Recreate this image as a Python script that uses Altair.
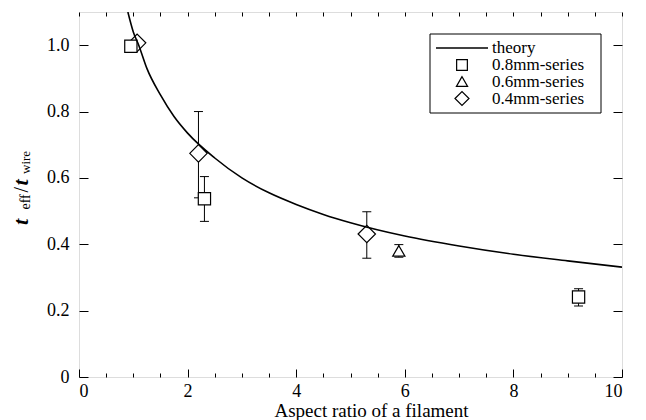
import altair as alt
import pandas as pd

# ---- data ----
theory_x = [0.90, 1.0, 1.1, 1.25, 1.5, 1.75, 2.0, 2.5, 3.0, 3.5, 4.0, 4.5, 5.0, 6.0, 7.0, 8.0, 9.0, 10.0]
theory_y = [1.10, 1.04, 1.00, 0.93, 0.85, 0.785, 0.735, 0.66, 0.60, 0.555, 0.52, 0.49, 0.465, 0.425, 0.395, 0.37, 0.35, 0.331]

series_names = ["theory", "0.8mm-series", "0.6mm-series", "0.4mm-series"]

sq_x = [0.955, 2.31, 9.20]
sq_y = [0.997, 0.537, 0.241]
tri_x = [5.89]
tri_y = [0.38]
dia_x = [1.07, 2.20, 5.30]
dia_y = [1.007, 0.674, 0.431]

err_x = [2.31, 9.20, 5.89, 2.20, 5.30]
err_lo = [0.469, 0.214, 0.361, 0.54, 0.358]
err_hi = [0.604, 0.266, 0.399, 0.80, 0.498]

x_major = [0, 2, 4, 6, 8, 10]
x_minor = [0.5, 1, 1.5, 2.5, 3, 3.5, 4.5, 5, 5.5, 6.5, 7, 7.5, 8.5, 9, 9.5]
x_all = [0, 0.5, 1, 1.5, 2, 2.5, 3, 3.5, 4, 4.5, 5, 5.5, 6, 6.5, 7, 7.5, 8, 8.5, 9, 9.5, 10]
y_major = [0, 0.2, 0.4, 0.6, 0.8, 1.0]

# ---- tables ----
curve_df = pd.DataFrame({"x": theory_x, "y": theory_y})
pts_df = pd.concat([
    pd.DataFrame({"x": dia_x, "y": dia_y, "series": series_names[3]}),
    pd.DataFrame({"x": sq_x, "y": sq_y, "series": series_names[1]}),
    pd.DataFrame({"x": tri_x, "y": tri_y, "series": series_names[2]}),
], ignore_index=True)
err_df = pd.DataFrame({"x": err_x, "lo": err_lo, "hi": err_hi})
one_df = pd.DataFrame({"k": [0]})  # single row for decorations

W, H = 543, 365
FONT = "Liberation Serif, Times New Roman, Times, DejaVu Serif, serif"
xs = alt.Scale(domain=[0, 10], nice=False, zero=False)
ys = alt.Scale(domain=[0, 1.1], nice=False, zero=False)


def tick_axis(orient, values, size, offset):
    return alt.Axis(orient=orient, values=values, tickSize=size, offset=offset,
                    labels=False, domain=False, grid=False, title=None,
                    tickColor="black", tickWidth=1)


# invisible layers that only carry inward tick marks
ticksA = alt.Chart(curve_df).mark_line(strokeOpacity=0).encode(
    x=alt.X("x:Q", scale=xs, axis=tick_axis("top", x_major, 8, -H)),
    y=alt.Y("y:Q", scale=ys, axis=tick_axis("right", y_major, 9, -W)),
)
ticksB = alt.Chart(curve_df).mark_line(strokeOpacity=0).encode(
    x=alt.X("x:Q", scale=xs, axis=tick_axis("top", x_minor, 4, -H)),
    y=alt.Y("y:Q", scale=ys, axis=tick_axis("left", y_major, 9, -W)),
)
ticksC = alt.Chart(curve_df).mark_line(strokeOpacity=0).encode(
    x=alt.X("x:Q", scale=xs, axis=tick_axis("bottom", x_all, 4, -H)),
    y=alt.Y("y:Q", scale=ys, axis=None),
)

# error bars
err_rule = alt.Chart(err_df).mark_rule(color="black", strokeWidth=1).encode(
    x=alt.X("x:Q", scale=xs, axis=None),
    y=alt.Y("lo:Q", scale=ys, axis=None),
    y2="hi:Q",
)
cap_lo = alt.Chart(err_df).mark_tick(color="black", orient="horizontal", size=9, thickness=1, opacity=1).encode(
    x=alt.X("x:Q", scale=xs, axis=None),
    y=alt.Y("lo:Q", scale=ys, axis=None),
)
cap_hi = alt.Chart(err_df).mark_tick(color="black", orient="horizontal", size=9, thickness=1, opacity=1).encode(
    x=alt.X("x:Q", scale=xs, axis=None),
    y=alt.Y("hi:Q", scale=ys, axis=None),
)

shape_domain = series_names[1:]
shape_range = ["square", "triangle-up", "M-1.42,0L0,-1.42L1.42,0L0,1.42Z"]

points = alt.Chart(pts_df).mark_point(
    fill="white", stroke="black", strokeWidth=1.2, opacity=1, fillOpacity=1, size=150
).encode(
    x=alt.X("x:Q", scale=xs, axis=None),
    y=alt.Y("y:Q", scale=ys, axis=None),
    shape=alt.Shape("series:N", scale=alt.Scale(domain=shape_domain, range=shape_range), legend=None),
)

curve = alt.Chart(curve_df).mark_line(color="black", strokeWidth=1.6, interpolate="monotone", clip=True).encode(
    x=alt.X("x:Q", scale=xs, axis=alt.Axis(
        orient="bottom", values=x_major, ticks=False, tickSize=0, domain=False, grid=False,
        labelFont=FONT, labelFontSize=18, labelColor="black", labelPadding=5, format="d",
        title="Aspect ratio of a filament", titleFont=FONT, titleFontSize=19,
        titleFontWeight="normal", titleColor="black", titleX=292, titleY=39,
        titleAlign="center", titleBaseline="alphabetic",
    )),
    y=alt.Y("y:Q", scale=ys, axis=alt.Axis(
        orient="left", values=y_major, ticks=False, tickSize=0, domain=False, grid=False,
        labelFont=FONT, labelFontSize=18, labelColor="black", labelPadding=10,
        labelExpr="datum.value == 0 ? '0' : format(datum.value, '.1f')", title=None,
    )),
)


def piece(txt, px, py, size, bold_italic):
    return alt.Chart(one_df).mark_text(
        text=txt, angle=270, align="left", baseline="alphabetic", font=FONT,
        fontSize=size, fontStyle="italic" if bold_italic else "normal",
        fontWeight="bold" if bold_italic else "normal", color="black",
    ).encode(x=alt.value(px), y=alt.value(py))


ytitle = [
    piece("t", -51, 213, 22, True),
    piece("eff", -49, 197.5, 14, False),
    piece("/", -51, 180.5, 20, False),
    piece("t", -51, 173.5, 22, True),
    piece("wire", -49, 162, 13, False),
]

# ---- hand-built legend (layout only) ----
LX0, LX1, LY0, LY1 = 351, 522, 22, 101
SYM_X, TXT_X = 383, 413
ROWS = [36, 53, 69.5, 86.5]

leg_box = alt.Chart(one_df).mark_rect(fill="white", stroke="black", strokeWidth=1).encode(
    x=alt.value(LX0), x2=alt.value(LX1), y=alt.value(LY0), y2=alt.value(LY1)
)
leg_line = alt.Chart(one_df).mark_rule(color="black", strokeWidth=1.4).encode(
    x=alt.value(357), x2=alt.value(409), y=alt.value(ROWS[0])
)
leg_syms = [
    alt.Chart(one_df).mark_point(shape="square", size=115, fill="white", stroke="black",
                                 strokeWidth=1.2, opacity=1, fillOpacity=1).encode(
        x=alt.value(SYM_X), y=alt.value(ROWS[1])),
    alt.Chart(one_df).mark_point(shape="triangle-up", size=125, fill="white", stroke="black",
                                 strokeWidth=1.2, opacity=1, fillOpacity=1).encode(
        x=alt.value(SYM_X), y=alt.value(ROWS[2])),
    alt.Chart(one_df).mark_point(shape="diamond", size=196, fill="white", stroke="black",
                                 strokeWidth=1.2, opacity=1, fillOpacity=1).encode(
        x=alt.value(SYM_X), y=alt.value(ROWS[3])),
]
leg_txt = [
    alt.Chart(one_df).mark_text(text=name, align="left", baseline="middle", font=FONT,
                                fontSize=17, color="black").encode(
        x=alt.value(TXT_X), y=alt.value(ROWS[i]))
    for i, name in enumerate(series_names)
]

chart = alt.layer(
    ticksA, ticksB, ticksC, err_rule, cap_lo, cap_hi, points, curve, *ytitle,
    leg_box, leg_line, *leg_syms, *leg_txt
).resolve_axis(
    x="independent", y="independent"
).properties(
    width=W, height=H,
    autosize=alt.AutoSizeParams(type="none"),
    padding={"left": 71, "top": 4, "right": 16, "bottom": 43},
).configure_view(
    stroke="black", strokeWidth=1
).configure(font=FONT)

chart.save("out.html", embed_options={"renderer": "svg", "actions": False})
